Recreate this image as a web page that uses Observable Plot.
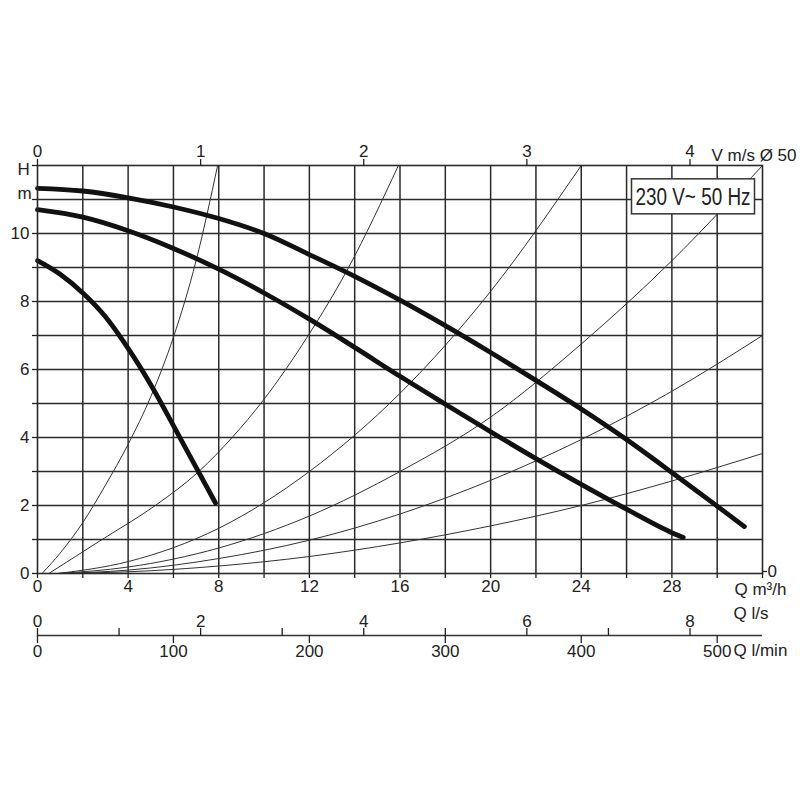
<!DOCTYPE html>
<html><head><meta charset="utf-8">
<script src="https://cdn.jsdelivr.net/npm/d3@7"></script>
<script src="https://cdn.jsdelivr.net/npm/@observablehq/plot@0.6"></script>
<style>body{margin:0;background:#fff;} svg{display:block}</style>
</head><body><div id="chart"></div>
<script>
// ---- data ----
const gridQ = [2,4,6,8,10,12,14,16,18,20,22,24,26,28,30];
const gridH = [1,2,3,4,5,6,7,8,9,10,11];
const qTicks = [0,2,4,6,8,10,12,14,16,18,20,22,24,26,28,30,32];
const qLabels = [0,4,8,12,16,20,24,28];
const hTicks = [0,1,2,3,4,5,6,7,8,9,10,11,12];
const hLabels = [0,2,4,6,8,10];
const vTicks = [0,1,2,3,4];          // V m/s, Ø 50
const lsTicks = [0,1,2,3,4,5,6,7,8]; // Q l/s
const lsLabels = [0,2,4,6,8];
const lminTicks = [0,100,200,300,400,500]; // Q l/min
const M3H_PER_MS = 7.2, M3H_PER_LS = 3.6, M3H_PER_LMIN = 0.06;

// pump curves (speed 3, 2, 1)
const pump3Q = [0,2,4,6,8,10,12,14,16,18,20,22,24,26,28,30,31.2];
const pump3H = [11.33,11.25,11.05,10.78,10.44,10.0,9.38,8.74,8.04,7.29,6.5,5.68,4.84,3.94,2.97,1.98,1.38];
const pump2Q = [0,2,4,6,8,10,12,14,16,18,20,22,24,26,28,28.5];
const pump2H = [10.7,10.48,10.08,9.56,8.95,8.25,7.48,6.65,5.8,4.98,4.17,3.38,2.62,1.89,1.2,1.06];
const pump1Q = [0,1,2,3,4,5,6,7,7.86];
const pump1H = [9.2,8.8,8.25,7.55,6.62,5.55,4.35,3.12,2.07];

// system curves
const sysAQ = [0.2,1,2,3,4,5,6,7,7.95];
const sysAH = [0,0.6,1.5,2.6,3.8,5.2,6.95,9.2,12];
const sysBQ = [0.5,2.85,5.2,7.12,8.59,9.97,11.9,13.73,15.93];
const sysBH = [0,1,2,3,4,5.1,6.95,9,12];
const sysCQ = [0.9,4,8,12,16,20,24];
const sysCH = [0,0.35,1.33,3.0,5.3,8.3,12];
const sysDQ = [0.9,4,8,12,16,20,24,28,32];
const sysDH = [0,0.19,0.75,1.69,3.0,4.6,6.75,9.2,12];
const sysEQ = [0.9,4,8,12,16,20,24,28,32];
const sysEH = [0,0.1,0.44,0.98,1.75,2.74,3.94,5.36,7.0];
const sysFQ = [0.9,4,8,12,16,20,24,28,32];
const sysFH = [0,0.05,0.22,0.5,0.9,1.4,2.0,2.72,3.53];

const supplyLabel = "230 V~ 50 Hz";

const toRows = (id, Q, H) => Q.map((q, i) => ({id, Q: q, H: H[i]}));
const pumpRows = [...toRows("p3", pump3Q, pump3H), ...toRows("p2", pump2Q, pump2H), ...toRows("p1", pump1Q, pump1H)];
const sysRows = [...toRows("A", sysAQ, sysAH), ...toRows("B", sysBQ, sysBH), ...toRows("C", sysCQ, sysCH),
                 ...toRows("D", sysDQ, sysDH), ...toRows("E", sysEQ, sysEH), ...toRows("F", sysFQ, sysFH)];

const ink = "#222";
const chart = Plot.plot({
  width: 800, height: 800,
  marginLeft: 37, marginRight: 38, marginTop: 165, marginBottom: 227,
  style: {fontFamily: "'Liberation Sans', Arial, sans-serif", fontSize: "17px", color: ink, background: "#fff"},
  x: {domain: [0, 32]},
  y: {domain: [0, 12]},
  marks: [
    Plot.ruleX(gridQ, {stroke: "#2a2a2a", strokeWidth: 1.5}),
    Plot.ruleY(gridH, {stroke: "#2a2a2a", strokeWidth: 1.5}),
    Plot.line(sysRows, {x: "Q", y: "H", z: "id", curve: "monotone-x", stroke: "#333", strokeWidth: 1, clip: true}),
    Plot.line(pumpRows, {x: "Q", y: "H", z: "id", curve: "monotone-x", stroke: "#111", strokeWidth: 4.8, strokeLinecap: "round"}),
    Plot.frame({stroke: "#2a2a2a", strokeWidth: 1.6}),
    // main axes
    Plot.axisX({anchor: "bottom", ticks: qTicks, tickSize: 5, tickPadding: 1, strokeWidth: 1.3,
      tickFormat: d => (qLabels.includes(d) ? d : ""), label: null}),
    Plot.axisY({anchor: "left", ticks: hTicks, tickSize: 5, tickPadding: 3, strokeWidth: 1.3,
      tickFormat: d => (hLabels.includes(d) ? d : ""), label: null}),
    Plot.axisY({anchor: "right", ticks: [0], tickSize: 4, tickPadding: 1, strokeWidth: 1.3, label: null, dy: -2}),
    // top: velocity
    Plot.axisX({anchor: "top", ticks: vTicks.map(v => v * M3H_PER_MS), tickSize: 7, tickPadding: 2, strokeWidth: 1.3,
      tickFormat: d => Math.round(d / M3H_PER_MS), label: null}),
    // secondary flow scales
    Plot.ruleY([0], {dy: 62, stroke: "#333", strokeWidth: 1.3}),
    Plot.axisX({anchor: "top", dy: 470, ticks: lsTicks.map(v => v * M3H_PER_LS), tickSize: 8, tickPadding: 1, strokeWidth: 1.3,
      tickFormat: d => { const v = Math.round(d / M3H_PER_LS); return lsLabels.includes(v) ? v : ""; }, label: null}),
    Plot.axisX({anchor: "bottom", dy: 62, ticks: lminTicks.map(v => v * M3H_PER_LMIN), tickSize: 8, tickPadding: 1, strokeWidth: 1.3,
      tickFormat: d => Math.round(d / M3H_PER_LMIN), label: null}),
    // unit labels
    Plot.text(["H"], {frameAnchor: "top-left", dx: -20, dy: -3, fill: ink}),
    Plot.text(["m"], {frameAnchor: "top-left", dx: -20, dy: 21, fill: ink}),
    Plot.text(["V m/s Ø 50"], {frameAnchor: "top-right", textAnchor: "end", dx: 34, dy: -17, fill: ink}),
    Plot.text(["Q m³/h"], {frameAnchor: "bottom-right", textAnchor: "start", dx: -28, dy: 21, fill: ink}),
    Plot.text(["Q l/s"], {frameAnchor: "bottom-right", textAnchor: "start", dx: -29, dy: 45, fill: ink}),
    Plot.text(["Q l/min"], {frameAnchor: "bottom-right", textAnchor: "start", dx: -29, dy: 82, fill: ink}),
    Plot.text([supplyLabel], {frameAnchor: "top-right", textAnchor: "end", dx: -12, dy: 23, fill: ink,
      fontSize: 23, fontFamily: "'Liberation Sans', Arial, sans-serif"})
  ]
});
document.getElementById("chart").append(chart);

// condense the supply label and put a white box behind it (same transform as the text)
const svgNS = "http://www.w3.org/2000/svg";
for (const t of chart.querySelectorAll("text")) {
  if (t.textContent === supplyLabel) {
    t.setAttribute("textLength", 115);
    t.setAttribute("lengthAdjust", "spacingAndGlyphs");
    const b = t.getBBox();
    const r = document.createElementNS(svgNS, "rect");
    r.setAttribute("x", b.x - 4); r.setAttribute("y", b.y - 5);
    r.setAttribute("width", b.width + 8); r.setAttribute("height", b.height + 9);
    r.setAttribute("fill", "#fff"); r.setAttribute("stroke", "#333"); r.setAttribute("stroke-width", 1.5);
    const tr = t.getAttribute("transform");
    if (tr) r.setAttribute("transform", tr);
    t.parentNode.insertBefore(r, t);
  }
}
</script>
</body></html>
